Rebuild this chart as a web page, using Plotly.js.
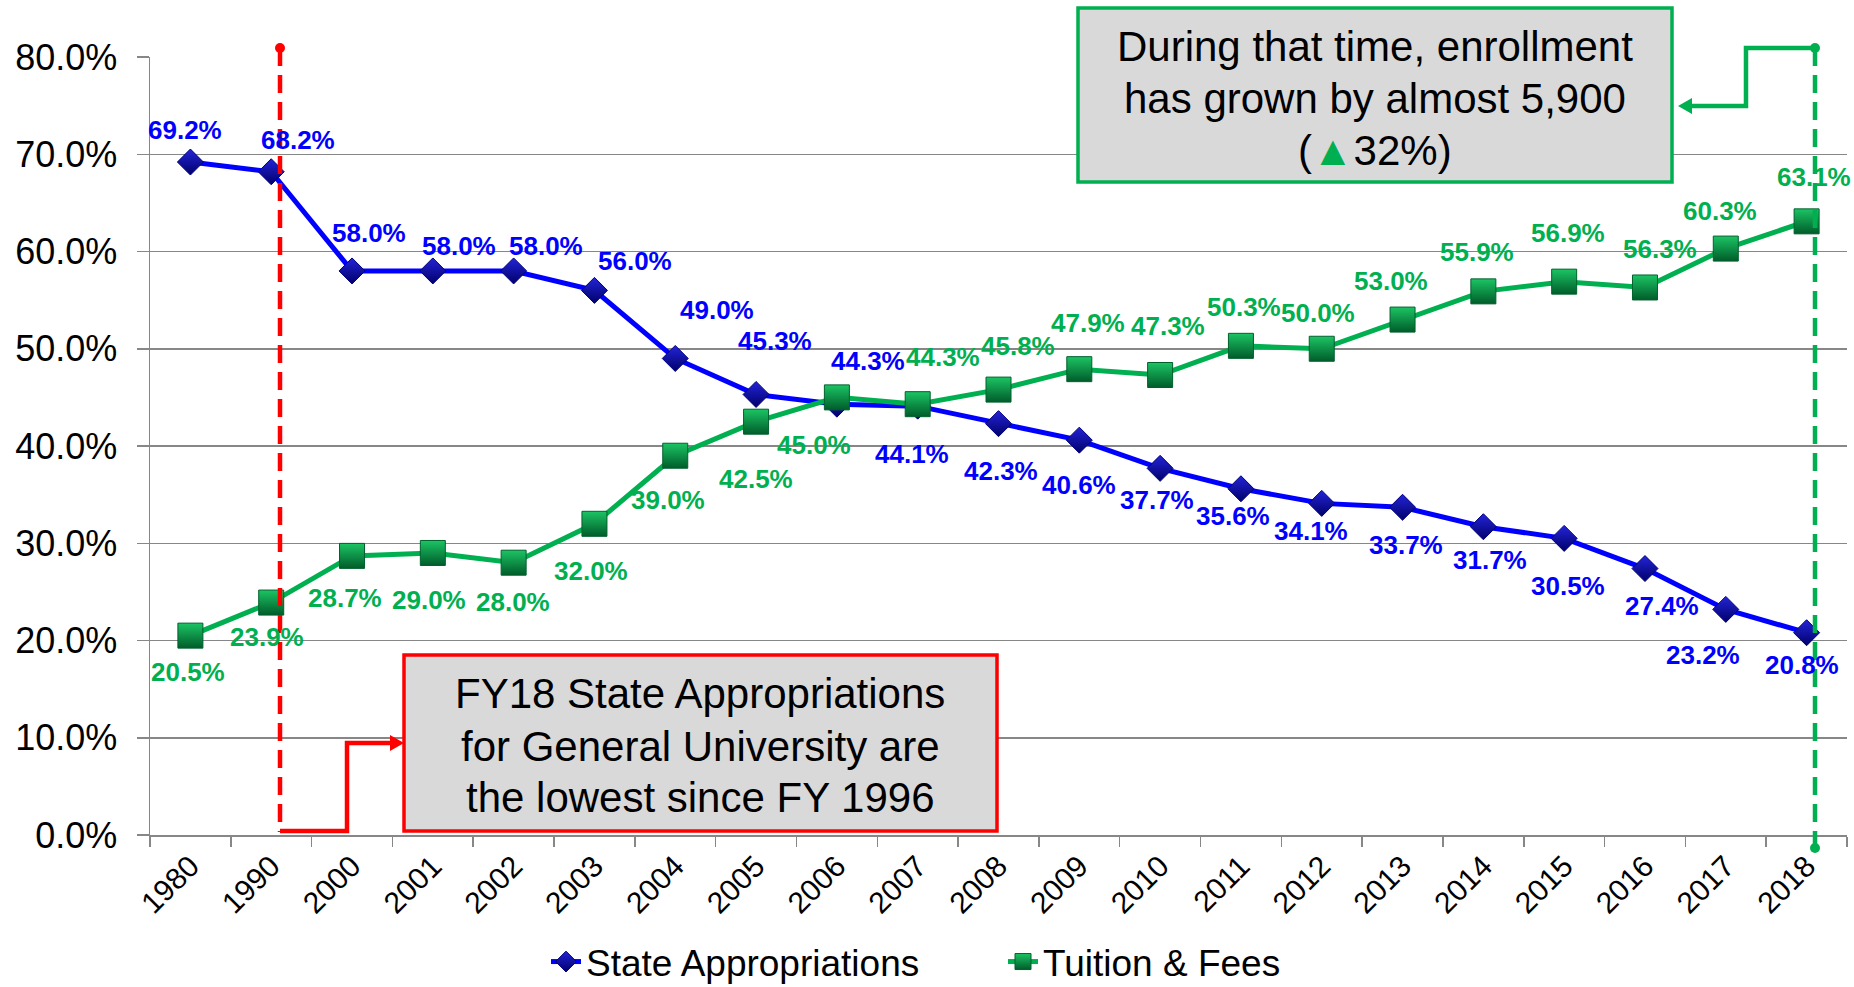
<!DOCTYPE html>
<html>
<head>
<meta charset="utf-8">
<script src="https://cdn.plot.ly/plotly-3.0.1.min.js"></script>
<style>
html,body{margin:0;padding:0;background:#ffffff;}
#chart{width:1854px;height:987px;}
</style>
</head>
<body>
<div id="chart"></div>
<script>
// ---------- data ----------
const categories = ['1980','1990','2000','2001','2002','2003','2004','2005','2006','2007','2008','2009','2010','2011','2012','2013','2014','2015','2016','2017','2018'];
const stateAppropriations = [69.2,68.2,58.0,58.0,58.0,56.0,49.0,45.3,44.3,44.1,42.3,40.6,37.7,35.6,34.1,33.7,31.7,30.5,27.4,23.2,20.8];
const tuitionFees = [20.5,23.9,28.7,29.0,28.0,32.0,39.0,42.5,45.0,44.3,45.8,47.9,47.3,50.3,50.0,53.0,55.9,56.9,56.3,60.3,63.1];
const yTickValues = [0,10,20,30,40,50,60,70,80];
const seriesNames = ['State Appropriations','Tuition & Fees'];
const redNoteLines = ['FY18 State Appropriations','for General University are','the lowest since FY 1996'];
const greenNoteLines = ['During that time, enrollment','has grown by almost 5,900','(<span style="color:#00b050">▲</span>32%)'];

// label offsets in pixels (dx right, dy down)
const stateLabelOffsets = [[-5,-32],[27,-32],[17,-38],[26,-25],[32,-25],[41,-29],[42,-48],[19,-53],[31,-43],[-6,48],[2,47],[0,45],[-3,32],[-8,27],[-11,28],[3,38],[7,33],[4,48],[17,37],[-23,46],[-5,32]];
const tuitionLabelOffsets = [[-2,36],[-4,34],[-7,42],[-4,47],[-1,39],[-3,47],[-7,44],[0,57],[-23,48],[25,-47],[19,-44],[9,-46],[8,-49],[3,-39],[-4,-36],[-12,-39],[-6,-39],[4,-49],[15,-38],[-6,-38],[7,-44]];

// ---------- layout geometry ----------
const L = 150, T = 57, W = 1697, H = 778;
const FIG_W = 1854, FIG_H = 987;
const px = x => (x - L) / W;
const py = y => (T + H - y) / H;

const BLUE = '#0000ff';
const GREEN = '#00b050';
const RED = '#ff0000';
const FONT = 'Liberation Sans, Arial, Helvetica, sans-serif';

const traces = [
  {
    x: categories, y: stateAppropriations, name: seriesNames[0],
    type: 'scatter', mode: 'lines+markers', cliponaxis: false,
    line: {color: BLUE, width: 5},
    marker: {symbol: 'diamond', size: 20, color: '#2424d8',
             gradient: {type: 'vertical', color: '#00006a'},
             line: {color: '#000080', width: 1}}
  },
  {
    x: categories, y: tuitionFees, name: seriesNames[1],
    type: 'scatter', mode: 'lines+markers', cliponaxis: false,
    line: {color: GREEN, width: 5},
    marker: {symbol: 'square', size: 25, color: '#1cc464',
             gradient: {type: 'vertical', color: '#005c2a'},
             line: {color: '#00602c', width: 1}}
  }
];

const annotations = [];
function addLabels(values, offsets, color) {
  values.forEach((v, i) => {
    annotations.push({
      x: i, y: v, xref: 'x', yref: 'y',
      text: '<b>' + v.toFixed(1) + '%</b>', showarrow: false,
      xshift: offsets[i][0], yshift: -offsets[i][1],
      font: {family: FONT, size: 26, color: color}
    });
  });
}
addLabels(stateAppropriations, stateLabelOffsets, BLUE);
addLabels(tuitionFees, tuitionLabelOffsets, GREEN);

function addNote(lines, cx, ys) {
  lines.forEach((t, i) => {
    annotations.push({
      xref: 'paper', yref: 'paper', x: px(cx), y: py(ys[i]),
      text: t, showarrow: false, xanchor: 'center', yanchor: 'middle',
      font: {family: FONT, size: 42, color: '#000000'}
    });
  });
}
addNote(redNoteLines, 700, [693, 746, 797]);
addNote(greenNoteLines, 1375, [46, 98, 151]);

function pth(points, close) {
  return points.map((p, i) => (i ? 'L' : 'M') + px(p[0]).toFixed(5) + ',' + py(p[1]).toFixed(5)).join(' ') + (close ? ' Z' : '');
}

const shapes = [
  // red dashed marker line
  {type: 'line', xref: 'paper', yref: 'paper', x0: px(280), x1: px(280), y0: py(48), y1: py(832),
   line: {color: RED, width: 4.5, dash: '18px,9px'}, layer: 'above'},
  {type: 'circle', xref: 'paper', yref: 'paper', x0: px(275), x1: px(285), y0: py(43), y1: py(53),
   fillcolor: RED, line: {color: RED, width: 0}, layer: 'above'},
  // red connector
  {type: 'path', xref: 'paper', yref: 'paper', path: pth([[280,831],[347,831],[347,743],[393,743]]),
   line: {color: RED, width: 4.5}, layer: 'above'},
  {type: 'path', xref: 'paper', yref: 'paper', path: pth([[404,743],[390,735],[390,751]], true),
   fillcolor: RED, line: {color: RED, width: 0}, layer: 'above'},
  // red box
  {type: 'rect', xref: 'paper', yref: 'paper', x0: px(404), x1: px(997), y0: py(831), y1: py(655),
   fillcolor: '#d9d9d9', line: {color: RED, width: 3.5}, layer: 'above'},
  // green dashed marker line
  {type: 'line', xref: 'paper', yref: 'paper', x0: px(1815), x1: px(1815), y0: py(48), y1: py(848),
   line: {color: GREEN, width: 4.5, dash: '18px,9px'}, layer: 'above'},
  {type: 'circle', xref: 'paper', yref: 'paper', x0: px(1810), x1: px(1820), y0: py(43), y1: py(53),
   fillcolor: GREEN, line: {color: GREEN, width: 0}, layer: 'above'},
  {type: 'circle', xref: 'paper', yref: 'paper', x0: px(1810), x1: px(1820), y0: py(843), y1: py(853),
   fillcolor: GREEN, line: {color: GREEN, width: 0}, layer: 'above'},
  // green connector
  {type: 'path', xref: 'paper', yref: 'paper', path: pth([[1815,48],[1746,48],[1746,106],[1690,106]]),
   line: {color: GREEN, width: 4.5}, layer: 'above'},
  {type: 'path', xref: 'paper', yref: 'paper', path: pth([[1678,106],[1692,98],[1692,114]], true),
   fillcolor: GREEN, line: {color: GREEN, width: 0}, layer: 'above'},
  // green box
  {type: 'rect', xref: 'paper', yref: 'paper', x0: px(1078), x1: px(1672), y0: py(182), y1: py(8),
   fillcolor: '#d9d9d9', line: {color: GREEN, width: 3.5}, layer: 'above'}
];

const layout = {
  width: FIG_W, height: FIG_H,
  margin: {l: L, r: FIG_W - L - W, t: T, b: FIG_H - T - H, autoexpand: false},
  paper_bgcolor: '#ffffff', plot_bgcolor: '#ffffff',
  font: {family: FONT, color: '#000000'},
  showlegend: true,
  legend: {orientation: 'h', xref: 'paper', yref: 'paper', x: px(546), y: py(962),
           xanchor: 'left', yanchor: 'middle', entrywidth: 412, entrywidthmode: 'pixels',
           font: {family: FONT, size: 37, color: '#000000'}, bgcolor: 'rgba(0,0,0,0)'},
  xaxis: {
    type: 'category', categoryorder: 'array', categoryarray: categories,
    range: [-0.5, categories.length - 0.5], autorange: false,
    showgrid: false, showline: true, linecolor: '#878787', linewidth: 1.5,
    ticks: 'outside', ticklen: 10, tickwidth: 1.5, tickcolor: '#878787',
    tickson: 'boundaries', tickangle: -45,
    tickfont: {family: FONT, size: 30, color: '#000000'},
    zeroline: false, fixedrange: true
  },
  yaxis: {
    range: [0, 80], autorange: false, tickvals: yTickValues,
    ticktext: yTickValues.map(v => v.toFixed(1) + '%'),
    showgrid: true, gridcolor: '#878787', gridwidth: 1.5,
    showline: true, linecolor: '#878787', linewidth: 1.5,
    ticks: 'outside', ticklen: 12, tickwidth: 1.5, tickcolor: '#878787',
    ticklabelstandoff: 12,
    tickfont: {family: FONT, size: 36, color: '#000000'},
    zeroline: false, fixedrange: true
  },
  annotations: annotations,
  shapes: shapes
};

Plotly.newPlot('chart', traces, layout, {displayModeBar: false, staticPlot: true});
</script>
</body>
</html>
